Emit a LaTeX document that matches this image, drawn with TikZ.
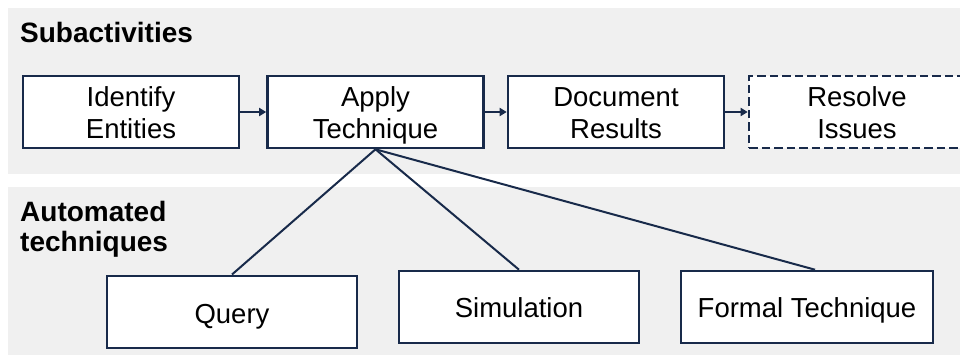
\documentclass[tikz,border=0pt]{standalone}
\usepackage{fontspec}
\setmainfont{Liberation Sans}
\usetikzlibrary{arrows.meta}
\definecolor{navy}{RGB}{24,42,74}
\definecolor{band}{RGB}{240,240,240}
% struts that fix the first line's height and the last line's depth
\newcommand{\topstrut}{\rule{0pt}{30pt}}
\newcommand{\botstrut}{\rule[-10pt]{0pt}{10pt}}
\tikzset{
  box/.style={draw=navy, line width=2.6pt, fill=white, inner sep=0pt,
    minimum width=216pt, minimum height=72pt, align=center,
    font=\fontsize{27.5}{32}\selectfont},
  techbox/.style={draw=navy, line width=2.6pt, fill=white, inner sep=0pt,
    minimum width=250pt, minimum height=72pt,
    font=\fontsize{27.5}{32}\selectfont, text depth=0pt},
  flow/.style={draw=navy, line width=2pt, -{Triangle[length=7pt,width=8pt]}},
  link/.style={draw=navy, line width=2pt},
  heading/.style={anchor=base west, inner sep=0pt,
    font=\fontsize{28}{30}\selectfont\bfseries}
}
\begin{document}
\begin{tikzpicture}[x=1pt,y=-1pt]
  \useasboundingbox (0,0) rectangle (960,356);
  \clip (0,0) rectangle (960,356);
  % background bands
  \fill[band] (8,8) rectangle (960,174);
  \fill[band] (8,187) rectangle (960,355);
  % headings
  \node[heading] (hsub) at (20,42) {Subactivities};
  \node[heading] (hauto) at (20,221) {Automated};
  \node[heading] (hauto2) at (20,251) {techniques};
  % subactivity boxes
  \node[box] (identify) at (131,112) {\topstrut Identify\\Entities\botstrut};
  \node[box] (apply) at (375.5,112) {\topstrut Apply\\Technique\botstrut};
  \node[box] (document) at (616,112) {\topstrut Document\\Results\botstrut};
  \node[box, dash pattern=on 8.5pt off 4pt] (resolve) at (857,112)
    {\topstrut Resolve\\Issues\botstrut};
  % technique boxes
  \node[techbox, text height=24pt] (query) at (232,311.8) {Query};
  \node[techbox, text height=20pt, minimum width=240pt] (sim) at (519,307) {Simulation};
  \node[techbox, text height=20pt, minimum width=252pt] (formal) at (807,307) {Formal Technique};
  % connectors
  \draw[flow] (identify) -- (apply);
  \draw[flow] (apply) -- (document);
  \draw[flow] (document) -- (resolve);
  \draw[link] (apply.south) -- (query.north);
  \draw[link] (apply.south) -- (sim.north);
  \draw[link] (apply.south) -- ([xshift=8pt]formal.north);
\end{tikzpicture}
\end{document}
